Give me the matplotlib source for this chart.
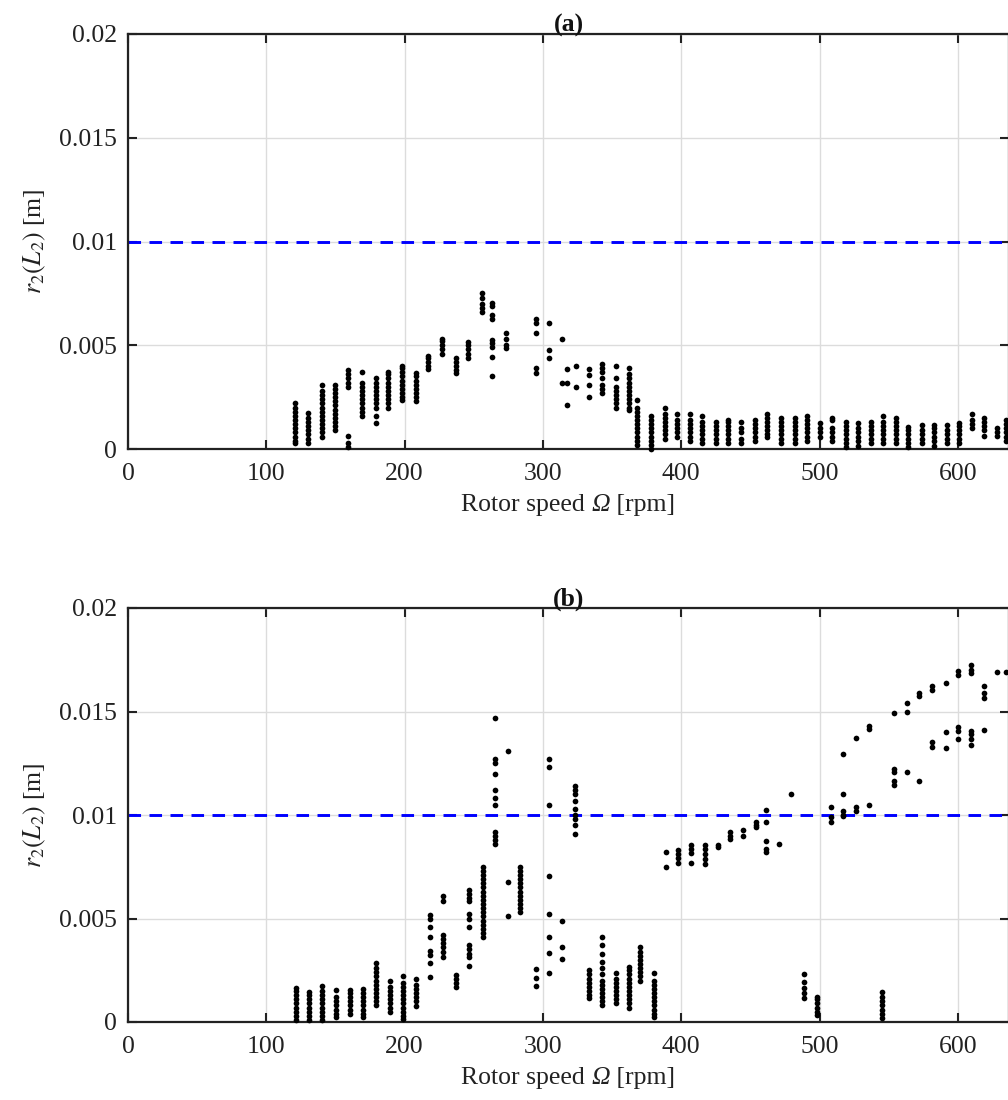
import matplotlib
matplotlib.use("Agg")
import matplotlib.pyplot as plt
from matplotlib.offsetbox import TextArea, HPacker, AnnotationBbox

# ---------------- data ----------------
limit_r2 = 0.01

speed_a = [121, 130.5, 140, 150, 159, 169, 179, 188, 198, 208, 217, 227, 237, 246,
           256, 263, 273, 295, 304.6, 314, 317.5, 324, 333, 343, 353, 362.6, 368,
           378, 388, 397, 406, 415, 425, 434, 443, 453, 462, 472, 482, 491, 500,
           509, 519, 528, 537.5, 546, 555, 564, 574, 583, 592, 601, 610, 619, 628, 635]
r2_a = [
    [0.00027, 0.0004, 0.0006, 0.0008, 0.001, 0.0012, 0.0014, 0.0016, 0.0018, 0.002, 0.0022],
    [0.0003, 0.0005, 0.0007, 0.0009, 0.0011, 0.0013, 0.0015, 0.00175],
    [0.00056, 0.0008, 0.001, 0.0012, 0.0014, 0.0016, 0.0018, 0.002, 0.0022, 0.0024, 0.0026, 0.0028, 0.0031],
    [0.0009, 0.0011, 0.0013, 0.0015, 0.0017, 0.0019, 0.0021, 0.0023, 0.0025, 0.0027, 0.0029, 0.0031],
    [0.0001, 0.0003, 0.00065, 0.003, 0.0032, 0.0034, 0.0036, 0.0038],
    [0.0016, 0.0018, 0.002, 0.0022, 0.0024, 0.0026, 0.0028, 0.003, 0.0032, 0.0037],
    [0.00123, 0.0016, 0.002, 0.0022, 0.0024, 0.0026, 0.0028, 0.003, 0.0032, 0.0034],
    [0.002, 0.0022, 0.0024, 0.0026, 0.0028, 0.003, 0.0032, 0.0034, 0.0036, 0.0037],
    [0.00234, 0.0025, 0.0027, 0.0029, 0.0031, 0.0033, 0.0035, 0.0037, 0.0039, 0.004],
    [0.0023, 0.0025, 0.0027, 0.0029, 0.0031, 0.0033, 0.0035, 0.00365],
    [0.00384, 0.004, 0.0042, 0.0044, 0.00447],
    [0.0046, 0.0048, 0.005, 0.0052, 0.0053],
    [0.00365, 0.0038, 0.004, 0.0042, 0.0044],
    [0.00437, 0.0046, 0.0048, 0.005, 0.00514],
    [0.0066, 0.0068, 0.007, 0.0073, 0.0075],
    [0.0035, 0.00442, 0.0049, 0.0051, 0.00524, 0.00625, 0.00645, 0.00688, 0.00703],
    [0.00485, 0.005, 0.0053, 0.00558],
    [0.00365, 0.00389, 0.00558, 0.00606, 0.00626],
    [0.00437, 0.00476, 0.00606],
    [0.0032, 0.0053],
    [0.0021, 0.0032, 0.00384],
    [0.00297, 0.004],
    [0.00249, 0.00307, 0.00355, 0.00384],
    [0.0027, 0.0029, 0.0031, 0.0034, 0.0037, 0.0039, 0.0041],
    [0.002, 0.0022, 0.0024, 0.0026, 0.0028, 0.003, 0.0034, 0.004],
    [0.00186, 0.002, 0.0022, 0.0024, 0.0026, 0.0028, 0.003, 0.0032, 0.0034, 0.0036, 0.00389],
    [0.00017, 0.0004, 0.0006, 0.0008, 0.001, 0.0012, 0.0014, 0.0016, 0.0018, 0.002, 0.00234],
    [0.00002, 0.0002, 0.0004, 0.0006, 0.0008, 0.001, 0.0012, 0.0014, 0.0016],
    [0.0005, 0.0007, 0.0009, 0.0011, 0.0013, 0.0015, 0.0017, 0.00196],
    [0.00056, 0.0008, 0.001, 0.0012, 0.0014, 0.0017],
    [0.0004, 0.0006, 0.0008, 0.001, 0.0012, 0.0014, 0.0017],
    [0.00027, 0.0005, 0.0007, 0.0009, 0.0011, 0.0013, 0.0016],
    [0.00027, 0.0005, 0.0007, 0.0009, 0.0011, 0.00128],
    [0.0003, 0.0005, 0.0007, 0.0009, 0.0011, 0.0013, 0.0014],
    [0.00027, 0.0005, 0.0008, 0.001, 0.00128],
    [0.0004, 0.0006, 0.0008, 0.001, 0.0012, 0.00138],
    [0.00056, 0.0007, 0.0009, 0.0011, 0.0013, 0.0015, 0.00167],
    [0.00027, 0.0005, 0.0007, 0.0009, 0.0011, 0.0013, 0.00147],
    [0.00027, 0.0005, 0.0007, 0.0009, 0.0011, 0.0013, 0.00147],
    [0.0004, 0.0006, 0.0008, 0.001, 0.0012, 0.0014, 0.0016],
    [0.00056, 0.0008, 0.001, 0.00123],
    [0.0004, 0.0006, 0.0008, 0.001, 0.0014, 0.0015],
    [0.0001, 0.0003, 0.0005, 0.0007, 0.0009, 0.0011, 0.00128],
    [0.00015, 0.0004, 0.0006, 0.0008, 0.001, 0.00123],
    [0.00027, 0.0005, 0.0007, 0.0009, 0.0011, 0.00128],
    [0.0003, 0.0005, 0.0007, 0.0009, 0.0011, 0.0013, 0.0016],
    [0.00027, 0.0005, 0.0007, 0.0009, 0.0011, 0.0013, 0.00147],
    [0.0001, 0.0003, 0.0005, 0.0007, 0.0009, 0.00104],
    [0.0003, 0.0005, 0.0007, 0.0009, 0.00118],
    [0.00015, 0.0004, 0.0006, 0.0008, 0.001, 0.00118],
    [0.00027, 0.0005, 0.0007, 0.0009, 0.00118],
    [0.0003, 0.0005, 0.0007, 0.0009, 0.0011, 0.00123],
    [0.001, 0.0012, 0.0014, 0.0017],
    [0.00065, 0.0009, 0.0011, 0.0013, 0.00147],
    [0.00065, 0.0008, 0.001],
    [0.0004, 0.0006, 0.0008, 0.001, 0.0012, 0.0014],
]

speed_b = [121.5, 131, 140.5, 150.5, 160.5, 170, 179.5, 189.5, 198.5, 208.5, 218.5, 228,
           237.5, 246.5, 257, 265.5, 274.5, 283.5, 295, 304.6, 314, 323.5, 333, 343,
           352.5, 362, 370.5, 380, 389, 397.5, 407, 417, 426.5, 435.5, 445, 454, 461.5,
           471, 479.5, 489, 498.5, 508, 517, 526.5, 536, 545, 554, 563, 572, 581, 591.5,
           600, 609.5, 619, 628, 635]
r2_b = [
    [0.0001, 0.0003, 0.0005, 0.0007, 0.0009, 0.0011, 0.0013, 0.0015, 0.00165],
    [0.0001, 0.0003, 0.0005, 0.0007, 0.0009, 0.0011, 0.0013, 0.00146],
    [0.0001, 0.0003, 0.0005, 0.0007, 0.0009, 0.0011, 0.0013, 0.0015, 0.00175],
    [0.00024, 0.0004, 0.0006, 0.0008, 0.001, 0.0012, 0.00155],
    [0.0004, 0.0006, 0.0008, 0.001, 0.0012, 0.0014, 0.00155],
    [0.00024, 0.0004, 0.0006, 0.0008, 0.001, 0.0012, 0.0014, 0.0016],
    [0.0008, 0.001, 0.0012, 0.0014, 0.0016, 0.0018, 0.002, 0.0022, 0.0024, 0.0026, 0.00286],
    [0.0005, 0.0007, 0.0009, 0.0011, 0.0013, 0.0015, 0.0017, 0.002],
    [0.00015, 0.0003, 0.0005, 0.0007, 0.0009, 0.0011, 0.0013, 0.0015, 0.0017, 0.0019, 0.0022],
    [0.00078, 0.001, 0.0012, 0.0014, 0.0016, 0.0018, 0.0021],
    [0.00218, 0.00286, 0.00325, 0.00345, 0.00413, 0.0046, 0.005, 0.00515],
    [0.00316, 0.0034, 0.0036, 0.0038, 0.004, 0.00422, 0.00583, 0.00607],
    [0.0017, 0.0019, 0.0021, 0.00228],
    [0.00272, 0.00316, 0.0033, 0.00354, 0.00374, 0.0046, 0.005, 0.00524, 0.00583, 0.006, 0.0062, 0.00636],
    [0.0041, 0.0043, 0.0045, 0.0047, 0.0049, 0.0051, 0.0053, 0.0055, 0.0057, 0.0059,
     0.0061, 0.0063, 0.0065, 0.0067, 0.0069, 0.0071, 0.0073, 0.0075],
    [0.0086, 0.0088, 0.009, 0.0092, 0.0105, 0.0108, 0.0112, 0.012, 0.0125, 0.0127, 0.0147],
    [0.0051, 0.00675, 0.0131],
    [0.0053, 0.0055, 0.0057, 0.0059, 0.0061, 0.0063, 0.0065, 0.0067, 0.0069, 0.0071, 0.0073, 0.0075],
    [0.00175, 0.00213, 0.00257],
    [0.00238, 0.00335, 0.0041, 0.0052, 0.00704, 0.0105, 0.0123, 0.0127],
    [0.00306, 0.00364, 0.0049],
    [0.0091, 0.0095, 0.0098, 0.01, 0.0103, 0.0107, 0.011, 0.0112, 0.0114],
    [0.00116, 0.0013, 0.0015, 0.0017, 0.0019, 0.0021, 0.0023, 0.00252],
    [0.0008, 0.001, 0.0012, 0.0014, 0.0016, 0.0018, 0.002, 0.0023, 0.0026, 0.0029, 0.0033, 0.0037, 0.0041],
    [0.00092, 0.0011, 0.0013, 0.0015, 0.0017, 0.0019, 0.0021, 0.00238],
    [0.00068, 0.0009, 0.0011, 0.0013, 0.0015, 0.0017, 0.0019, 0.0021, 0.0023, 0.0025, 0.00267],
    [0.002, 0.0022, 0.0024, 0.0026, 0.0028, 0.003, 0.0032, 0.0034, 0.00364],
    [0.00024, 0.0004, 0.0006, 0.0008, 0.001, 0.0012, 0.0014, 0.0016, 0.0018, 0.002, 0.00238],
    [0.0075, 0.0082],
    [0.0077, 0.0079, 0.0081, 0.0083],
    [0.00767, 0.00815, 0.00835, 0.00854],
    [0.00762, 0.00786, 0.0081, 0.00835, 0.00854],
    [0.00845, 0.00854],
    [0.00883, 0.009, 0.0092],
    [0.009, 0.00927],
    [0.0094, 0.0095, 0.00966],
    [0.0082, 0.00835, 0.00874, 0.00966, 0.01024],
    [0.0086],
    [0.011],
    [0.00116, 0.0014, 0.00165, 0.00194, 0.00233],
    [0.00034, 0.0005, 0.0007, 0.0009, 0.0011, 0.0012],
    [0.00966, 0.0099, 0.0104],
    [0.00995, 0.01, 0.0102, 0.011, 0.01296],
    [0.0102, 0.0104, 0.01374],
    [0.01048, 0.01417, 0.01432],
    [0.0002, 0.0004, 0.0006, 0.0008, 0.001, 0.0012, 0.00146],
    [0.01146, 0.01165, 0.01209, 0.01223, 0.01495],
    [0.01209, 0.015, 0.01539],
    [0.01165, 0.01573, 0.01587],
    [0.0133, 0.01354, 0.01602, 0.01621],
    [0.01325, 0.01403, 0.0164],
    [0.01369, 0.01408, 0.01427, 0.01675, 0.01694],
    [0.0134, 0.01369, 0.01393, 0.01408, 0.01684, 0.017, 0.01723],
    [0.01413, 0.01563, 0.01587, 0.01621],
    [0.01689],
    [0.0169],
]

x_ticks = [0, 100, 200, 300, 400, 500, 600]
y_ticks = [0, 0.005, 0.01, 0.015, 0.02]
y_tick_labels = ["0", "0.005", "0.01", "0.015", "0.02"]
panel_titles = ["(a)", "(b)"]
xlabel_parts = ["Rotor speed ", "Ω", " [rpm]"]

# ---------------- style ----------------
plt.rcParams["font.family"] = ["Liberation Serif", "DejaVu Serif"]
plt.rcParams["mathtext.fontset"] = "stix"

FS = 18.5
TXT = "#222222"
W, H = 1008, 1100
fig = plt.figure(figsize=(W / 100, H / 100), dpi=100)

left_px = 128
width_px = 881
axes_px = [(34, 449), (608, 1022)]  # (top, bottom) in pixels

for (top, bot), speeds, vals, title in zip(axes_px, [speed_a, speed_b], [r2_a, r2_b], panel_titles):
    ax = fig.add_axes([left_px / W, 1 - bot / H, width_px / W, (bot - top) / H])
    ax.set_xlim(0, 637)
    ax.set_ylim(0, 0.02)
    ax.grid(True, color="#dcdcdc", linewidth=1.0, zorder=0)
    ax.set_axisbelow(True)
    ax.axhline(limit_r2, color="#0000ff", linewidth=2.1, dashes=(4.3, 2.9), zorder=2)
    xs, ys = [], []
    for s, v in zip(speeds, vals):
        xs.extend([s] * len(v))
        ys.extend(v)
    ax.plot(xs, ys, linestyle="none", marker="o", markersize=4.1,
            markerfacecolor="black", markeredgewidth=0, zorder=3, clip_on=False)
    ax.set_xticks(x_ticks)
    ax.set_yticks(y_ticks)
    ax.set_yticklabels(y_tick_labels)
    ax.tick_params(direction="in", length=6.5, width=1.5, labelsize=FS,
                   top=True, right=True, colors=TXT, labelcolor=TXT)
    ax.tick_params(axis="x", pad=10)
    ax.tick_params(axis="y", pad=8)
    for sp in ax.spines.values():
        sp.set_linewidth(1.6)
        sp.set_color(TXT)
    ax.set_ylabel(r"$r_2(L_2)$ [m]", fontsize=FS, color=TXT, labelpad=8)
    ax.set_title(title, fontsize=FS, fontweight="bold", pad=2, color="#111111")

    # x label with an italic Omega
    parts = [
        TextArea(xlabel_parts[0], textprops=dict(fontsize=FS, color=TXT)),
        TextArea(xlabel_parts[1], textprops=dict(fontsize=FS, color=TXT, fontstyle="italic")),
        TextArea(xlabel_parts[2], textprops=dict(fontsize=FS, color=TXT)),
    ]
    pack = HPacker(children=parts, align="baseline", pad=0, sep=0)
    ab = AnnotationBbox(pack, (568 / W, 1 - (bot + 56) / H), xycoords="figure fraction",
                        box_alignment=(0.5, 0.5), frameon=False)
    fig.add_artist(ab)

fig.savefig("out.png", dpi=100)
